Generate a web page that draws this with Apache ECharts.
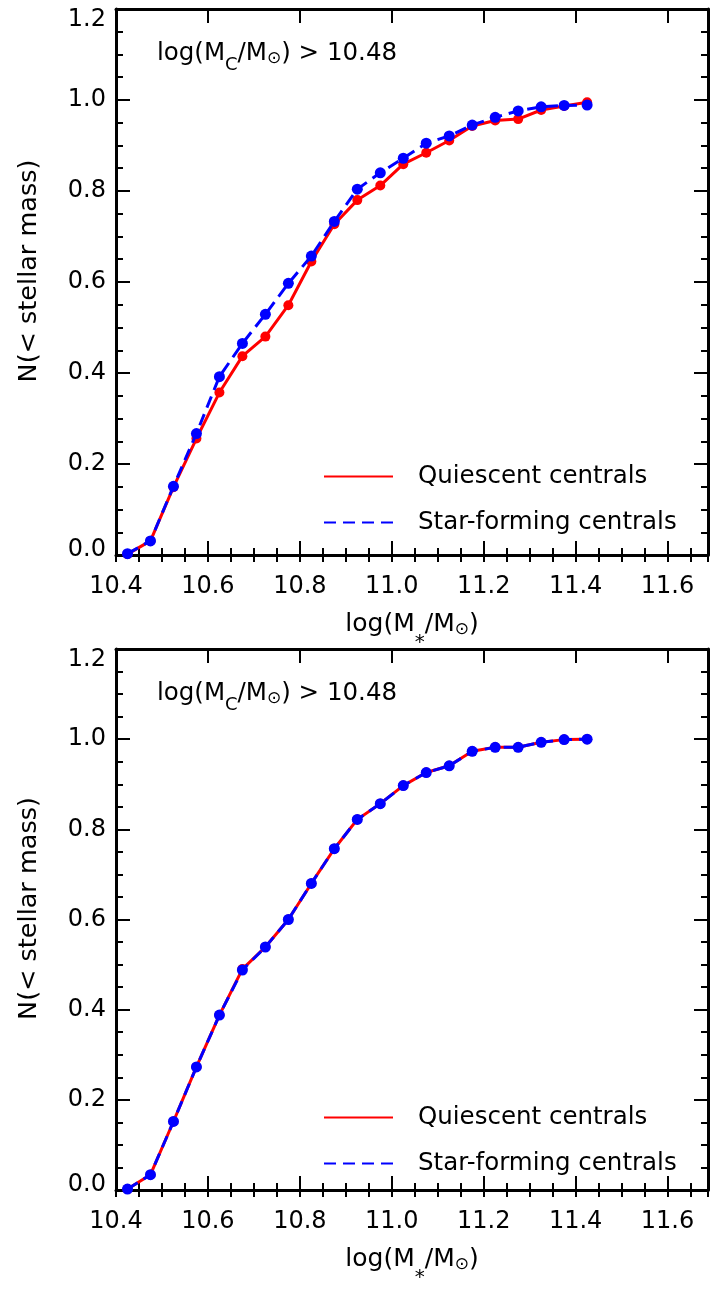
<!DOCTYPE html>
<html>
<head>
<meta charset="utf-8">
<script src="https://cdn.jsdelivr.net/npm/echarts@6/dist/echarts.min.js"></script>
<style>
html,body{margin:0;padding:0;background:#fff}
#chart{width:714px;height:1289px}
</style>
</head>
<body>
<div id="chart"></div>
<script>
// bin centres, log(M*/Msun)
const massBins = [10.425, 10.475, 10.525, 10.575, 10.625, 10.675, 10.725, 10.775, 10.825, 10.875,
  10.925, 10.975, 11.025, 11.075, 11.125, 11.175, 11.225, 11.275, 11.325, 11.375, 11.425]

// top panel
const topQuiescent = [0.002, 0.031, 0.149, 0.256, 0.357, 0.437, 0.480, 0.549, 0.645, 0.727,
  0.780, 0.812, 0.859, 0.884, 0.911, 0.943, 0.955, 0.958, 0.978, 0.987, 0.995]
const topStarForming = [0.003, 0.031, 0.151, 0.267, 0.392, 0.465, 0.529, 0.597, 0.657, 0.733,
  0.804, 0.840, 0.872, 0.905, 0.921, 0.945, 0.962, 0.976, 0.985, 0.988, 0.989]

// bottom panel
const bottomQuiescent = [0.002, 0.034, 0.152, 0.273, 0.388, 0.490, 0.539, 0.600, 0.680, 0.757,
  0.822, 0.857, 0.897, 0.926, 0.941, 0.973, 0.982, 0.982, 0.993, 0.999, 1.000]
const bottomStarForming = [0.002, 0.034, 0.152, 0.273, 0.388, 0.488, 0.539, 0.600, 0.680, 0.757,
  0.822, 0.857, 0.897, 0.926, 0.941, 0.973, 0.982, 0.982, 0.993, 0.999, 1.000]

const seriesNames = ['Quiescent centrals', 'Star-forming centrals']
const cutLabel = '{a|log(M}{c|C}{a|/M}{o|⊙}{a|) > 10.48}'

const FONT = 'DejaVu Sans'
const X_MIN = 10.4, X_MAX = 11.688
const Y_MIN = 0, Y_MAX = 1.2

let chart = echarts.init(document.getElementById('chart'))

const frame = { show: true, onZero: false, lineStyle: { color: '#000', width: 3 } }
const tickStyle = { color: '#000', width: 2 }

function xAxes(g) {
  let axes = []
  ;['bottom', 'top'].forEach(pos => {
    // major ticks (and labels on the bottom one)
    axes.push({
      gridIndex: g, type: 'value', position: pos, min: X_MIN, max: X_MAX, interval: 0.2,
      axisLine: frame,
      axisTick: { inside: true, length: 14, lineStyle: tickStyle },
      axisLabel: {
        show: pos === 'bottom', showMaxLabel: false, margin: 20,
        fontSize: 24, color: '#000', fontFamily: FONT,
        formatter: v => v.toFixed(1)
      },
      splitLine: { show: false },
      name: pos === 'bottom' ? '{a|log(M}{s|*}{a|/M}{o|⊙}{a|)}' : '',
      nameLocation: 'middle',
      nameGap: 57,
      nameTextStyle: {
        rich: {
          a: { fontSize: 25, fontFamily: FONT, color: '#000', lineHeight: 28, verticalAlign: 'top' },
          s: { fontSize: 20, fontFamily: FONT, color: '#000', lineHeight: 20, padding: [21, 0, 0, 0], verticalAlign: 'top' },
          o: { fontSize: 17, fontFamily: FONT, color: '#000', lineHeight: 20, padding: [9, 0, 0, 0], verticalAlign: 'top' }
        }
      }
    })
    // minor ticks every 0.05
    axes.push({
      gridIndex: g, type: 'value', position: pos, min: X_MIN, max: X_MAX, interval: 0.05,
      axisLine: { show: false },
      axisTick: { inside: true, length: 7, lineStyle: tickStyle },
      axisLabel: { show: false },
      splitLine: { show: false }
    })
  })
  return axes
}

function yAxes(g) {
  return ['left', 'right'].map(pos => ({
    gridIndex: g, type: 'value', position: pos, min: Y_MIN, max: Y_MAX, interval: 0.2,
    axisLine: frame,
    axisTick: { inside: true, length: 14, lineStyle: tickStyle },
    minorTick: { show: true, splitNumber: 4, length: 7, lineStyle: tickStyle },
    splitLine: { show: false },
    axisLabel: {
      show: pos === 'left', margin: 10, fontSize: 24, color: '#000', fontFamily: FONT,
      formatter: v => v >= Y_MAX - 1e-9 ? '{t|' + v.toFixed(1) + '}' : (v <= 1e-9 ? '{b|' + v.toFixed(1) + '}' : v.toFixed(1)),
      rich: {
        t: { fontSize: 24, color: '#000', fontFamily: FONT, padding: [22, 0, 0, 0] },
        b: { fontSize: 24, color: '#000', fontFamily: FONT, padding: [0, 0, 10, 0] }
      }
    },
    name: pos === 'left' ? 'N(< stellar mass)' : '',
    nameLocation: 'middle',
    nameGap: 74,
    nameTextStyle: { fontSize: 25.5, color: '#000', fontFamily: FONT, padding: [0, 0, 0, 22] }
  }))
}

function panelSeries(g, quiescent, starForming) {
  return [
    {
      name: seriesNames[0], type: 'line', xAxisIndex: g * 4, yAxisIndex: g * 2,
      data: massBins.map((m, i) => [m, quiescent[i]]),
      symbol: 'circle', symbolSize: 10,
      lineStyle: { color: '#ff0000', width: 3 },
      itemStyle: { color: '#ff0000' },
      z: 2
    },
    {
      name: seriesNames[1], type: 'line', xAxisIndex: g * 4, yAxisIndex: g * 2,
      data: massBins.map((m, i) => [m, starForming[i]]),
      symbol: 'circle', symbolSize: 11,
      lineStyle: { color: '#0000ff', width: 3, type: [12, 7] },
      itemStyle: { color: '#0000ff' },
      z: 3
    }
  ]
}

function panelLegend(top) {
  return {
    left: 323, top: top, orient: 'vertical', padding: 0,
    itemWidth: 69, itemHeight: 3, itemGap: 21,
    selectedMode: false,
    data: seriesNames,
    itemStyle: { opacity: 0 },
    textStyle: { fontSize: 24.5, color: '#000', fontFamily: FONT, padding: [0, 0, 0, 20] }
  }
}

function cutTitle(top) {
  return {
    text: cutLabel, left: 157, top: top, padding: 0,
    textStyle: {
      fontWeight: 'normal',
      rich: {
        a: { fontSize: 24.5, fontWeight: 'normal', fontFamily: FONT, color: '#000', lineHeight: 28, verticalAlign: 'top' },
        c: { fontSize: 18, fontWeight: 'normal', fontFamily: FONT, color: '#000', lineHeight: 20, padding: [15, 0, 0, 0], verticalAlign: 'top' },
        o: { fontSize: 17, fontWeight: 'normal', fontFamily: FONT, color: '#000', lineHeight: 20, padding: [9, 0, 0, 0], verticalAlign: 'top' }
      }
    }
  }
}

let option = {
  animation: false,
  backgroundColor: '#fff',
  textStyle: { fontFamily: FONT },
  title: [cutTitle(41), cutTitle(681)],
  legend: [panelLegend(464), panelLegend(1105)],
  grid: [
    { left: 116, right: 6, top: 9, height: 546 },
    { left: 116, right: 6, top: 649, height: 547 }
  ],
  xAxis: xAxes(0).concat(xAxes(1)),
  yAxis: yAxes(0).concat(yAxes(1)),
  series: panelSeries(0, topQuiescent, topStarForming).concat(panelSeries(1, bottomQuiescent, bottomStarForming))
}
chart.setOption(option)
</script>
</body>
</html>
